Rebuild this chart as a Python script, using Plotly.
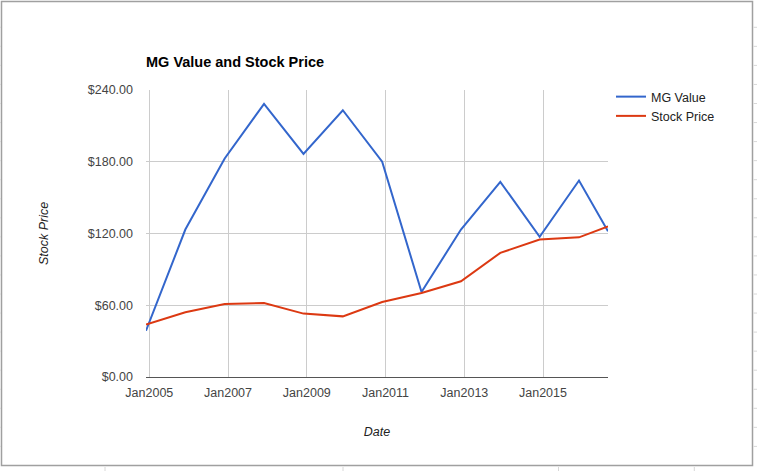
import plotly.graph_objects as go

# ---- data ----
dates = ["2004-12-01", "2005-12-01", "2006-12-01", "2007-12-01", "2008-12-01",
         "2009-12-01", "2010-12-01", "2011-12-01", "2012-12-01", "2013-12-01",
         "2014-12-01", "2015-12-01", "2016-08-26"]
mg_value = [38.7, 123.3, 182.7, 228.4, 186.6, 223.1, 180.0, 71.1, 123.3, 163.2, 117.2, 164.3, 121.8]
stock_price = [43.8, 54.1, 61.1, 61.9, 53.0, 50.7, 62.7, 70.3, 80.0, 103.8, 114.9, 116.8, 126.0]
series_names = ["MG Value", "Stock Price"]
y_ticks = [0, 60, 120, 180, 240]
y_tick_labels = ["$" + format(v, ".2f") for v in y_ticks]

# ---- layout geometry (pixels) ----
WIDTH, HEIGHT = 757, 471
L, R, T, B = 146, 608, 90, 377
PW, PH = R - L, B - T


def px(x):
    return (x - L) / PW


def py(y):
    return (B - y) / PH


FONT = "Arial, 'Liberation Sans', sans-serif"
FS = 12.5

fig = go.Figure()
fig.add_trace(go.Scatter(x=dates, y=mg_value, mode="lines", name=series_names[0],
                         line=dict(color="#3366cc", width=2)))
fig.add_trace(go.Scatter(x=dates, y=stock_price, mode="lines", name=series_names[1],
                         line=dict(color="#dc3912", width=2)))

shapes = []
# outer frame
shapes.append(dict(type="rect", xref="paper", yref="paper",
                   x0=px(1.5), x1=px(752.5), y0=py(1.5), y1=py(465.5),
                   line=dict(color="#a0a0a0", width=1.5), layer="below"))
# spreadsheet cell marks outside the frame
yy = 27.3
while yy < 465:
    for (xa, xb) in [(0, 1), (753.5, 757)]:
        shapes.append(dict(type="line", xref="paper", yref="paper",
                           x0=px(xa), x1=px(xb), y0=py(yy), y1=py(yy),
                           line=dict(color="#d8d8d8", width=1)))
    yy += 19.05
for xx in [105, 343, 558.5, 694.3]:
    shapes.append(dict(type="line", xref="paper", yref="paper",
                       x0=px(xx), x1=px(xx), y0=py(467), y1=py(471),
                       line=dict(color="#d8d8d8", width=1)))

fig.update_layout(
    width=WIDTH, height=HEIGHT,
    margin=dict(l=L, r=WIDTH - R, t=T, b=HEIGHT - B, autoexpand=False),
    paper_bgcolor="white", plot_bgcolor="white",
    font=dict(family=FONT, size=FS, color="#222222"),
    title=dict(text="<b>MG Value and Stock Price</b>", x=px(146), xanchor="left",
               xref="paper", y=1 - 62 / HEIGHT, yanchor="middle", yref="container",
               font=dict(family=FONT, size=14.5, color="#000000")),
    showlegend=True,
    legend=dict(x=px(611), y=py(82), xanchor="left", yanchor="top",
                font=dict(family=FONT, size=FS, color="#222222"),
                bgcolor="rgba(0,0,0,0)", borderwidth=0, tracegroupgap=0),
    xaxis=dict(type="date", range=[dates[0], dates[-1]],
               tick0="2005-01-01", dtick="M24", tickformat="%b%Y",
               showgrid=True, gridcolor="#cccccc", gridwidth=1,
               showline=True, linecolor="#555555", linewidth=1,
               zeroline=False, ticks="", ticklabelstandoff=4,
               tickfont=dict(family=FONT, size=FS, color="#444444"),
               title=dict(text="<i>Date</i>", standoff=28,
                          font=dict(family=FONT, size=FS, color="#222222"))),
    yaxis=dict(range=[0, 240], tickmode="array", tickvals=y_ticks, ticktext=y_tick_labels,
               showgrid=True, gridcolor="#cccccc", gridwidth=1,
               zeroline=False, showline=False, ticks="", ticklabelstandoff=12,
               tickfont=dict(family=FONT, size=FS, color="#444444"),
               title=dict(text="<i>Stock Price</i>", standoff=36,
                          font=dict(family=FONT, size=FS, color="#222222"))),
    shapes=shapes,
)

fig.write_html("out.html", config={"displayModeBar": False},
               post_script="document.body.style.margin='0px';")
